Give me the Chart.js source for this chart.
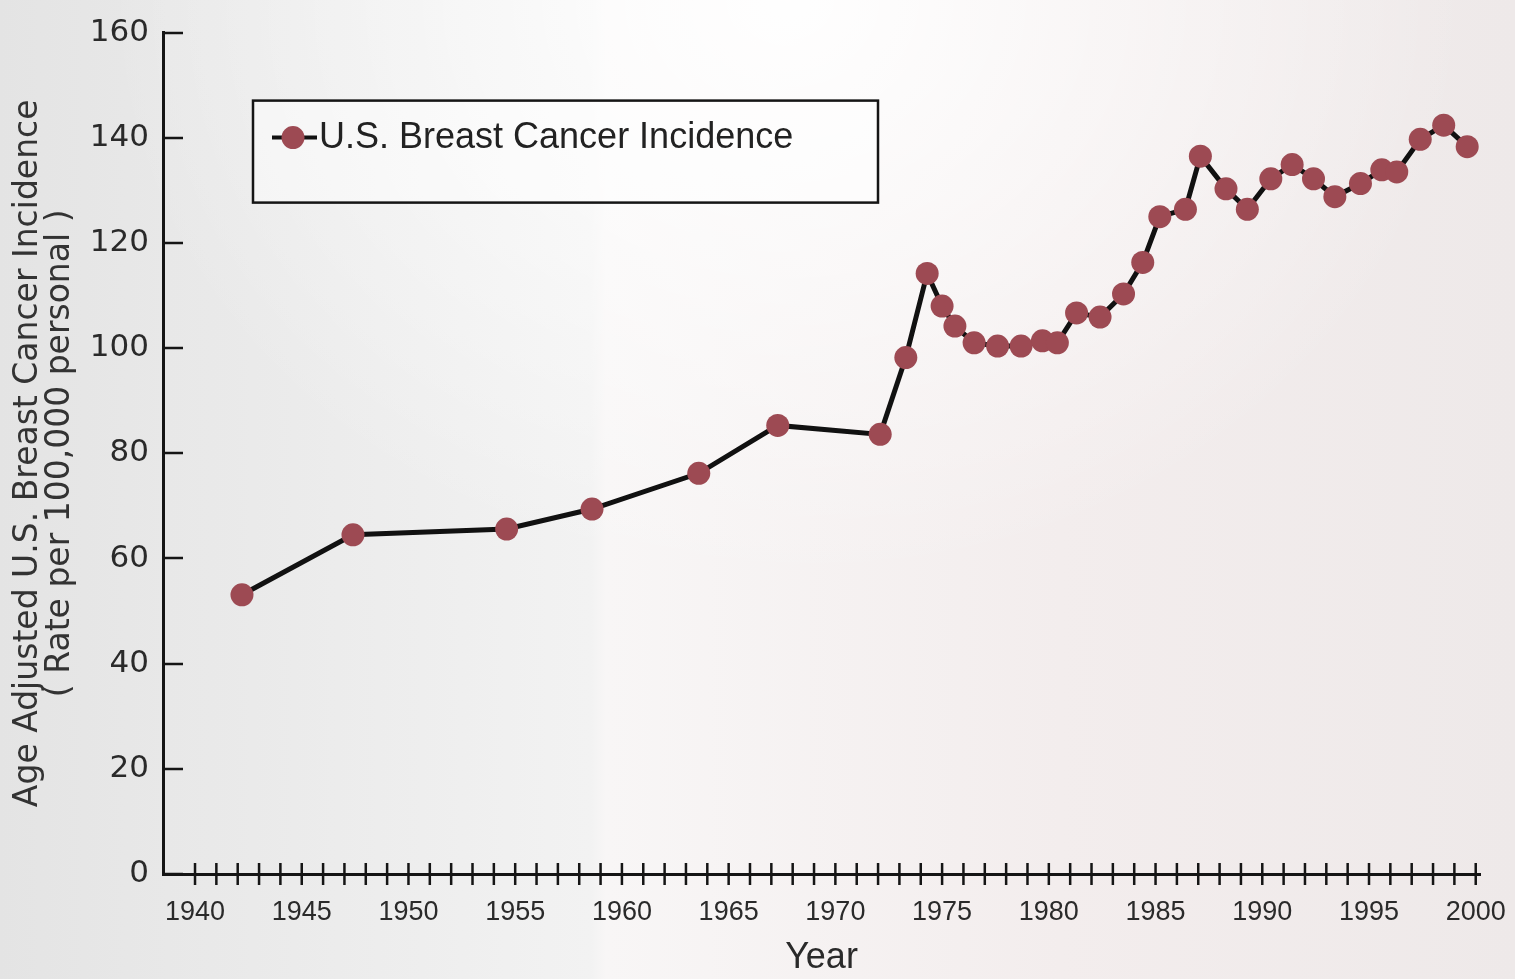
<!DOCTYPE html>
<html>
<head>
<meta charset="utf-8">
<script src="https://cdn.jsdelivr.net/npm/chart.js@4/dist/chart.umd.min.js"></script>
<style>
  html, body { margin: 0; padding: 0; }
  body {
    width: 1515px; height: 979px; overflow: hidden;
    background:
      radial-gradient(ellipse 45% 60% at 52% 0%, rgba(255,255,255,0.95), rgba(255,255,255,0) 100%),
      linear-gradient(to right, #e4e4e4 0%, #ededed 25%, #f2f2f2 39%, #f8f6f6 40%, #f3eded 70%, #eee9e9 100%);
  }
  #wrap { position: absolute; left: 0; top: 0; width: 1515px; height: 979px; }
</style>
</head>
<body>
<div id="wrap"><canvas id="c" width="1515" height="979"></canvas></div>
<script>
// ---- data ----
const years = [1942.2, 1947.4, 1954.6, 1958.6, 1963.6, 1967.3, 1972.1, 1973.3, 1974.3, 1975.0,
               1975.6, 1976.5, 1977.6, 1978.7, 1979.7, 1980.4, 1981.3, 1982.4, 1983.5, 1984.4,
               1985.2, 1986.4, 1987.1, 1988.3, 1989.3, 1990.4, 1991.4, 1992.4, 1993.4, 1994.6,
               1995.6, 1996.3, 1997.4, 1998.5, 1999.6];
const incidence = [53.1, 64.5, 65.6, 69.4, 76.2, 85.3, 83.6, 98.2, 114.2, 108.0,
                   104.2, 101.0, 100.4, 100.4, 101.4, 101.0, 106.7, 105.9, 110.3, 116.3,
                   125.0, 126.4, 136.5, 130.3, 126.4, 132.2, 134.9, 132.2, 128.8, 131.3,
                   133.9, 133.5, 139.7, 142.4, 138.3];
const seriesLabel = 'U.S. Breast Cancer Incidence';
const xLabelYears = [1940, 1945, 1950, 1955, 1960, 1965, 1970, 1975, 1980, 1985, 1990, 1995, 2000];
const yTickValues = [0, 20, 40, 60, 80, 100, 120, 140, 160];
const xTitle = 'Year';
const yTitle = ['Age Adjusted U.S. Breast Cancer Incidence', '( Rate per 100,000 personal )'];

const points = years.map((y, i) => ({ x: y, y: incidence[i] }));

const markerColor = '#9d4a53';
const axisColor = '#151515';

const decorPlugin = {
  id: 'decor',
  beforeDatasetsDraw(chart) {
    const ctx = chart.ctx, xs = chart.scales.x, ys = chart.scales.y, a = chart.chartArea;
    ctx.save();
    ctx.strokeStyle = axisColor;
    ctx.lineWidth = 2.5;
    ctx.beginPath();
    ys.ticks.forEach(t => {
      const py = Math.round(ys.getPixelForValue(t.value));
      ctx.moveTo(a.left, py); ctx.lineTo(a.left + 20, py);
    });
    xs.ticks.forEach(t => {
      const px = xs.getPixelForValue(t.value);
      ctx.moveTo(px, a.bottom - 11); ctx.lineTo(px, a.bottom + 11);
    });
    ctx.stroke();
    ctx.restore();
  },
  afterDraw(chart) {
    const ctx = chart.ctx, a = chart.chartArea;
    const ds = chart.data.datasets[0];
    const bx = a.left + 90, by = a.top + 68, bw = 625, bh = 102;
    ctx.save();
    ctx.fillStyle = 'rgba(255,255,255,0.45)';
    ctx.fillRect(bx, by, bw, bh);
    ctx.strokeStyle = axisColor;
    ctx.lineWidth = 2.5;
    ctx.strokeRect(bx, by, bw, bh);
    const cy = by + 37;
    ctx.beginPath();
    ctx.moveTo(bx + 19, cy); ctx.lineTo(bx + 64, cy);
    ctx.lineWidth = 4; ctx.strokeStyle = ds.borderColor; ctx.stroke();
    ctx.beginPath();
    ctx.arc(bx + 40, cy, ds.pointRadius, 0, Math.PI * 2);
    ctx.fillStyle = ds.pointBackgroundColor; ctx.fill();
    ctx.fillStyle = '#222';
    ctx.font = '36px "Liberation Sans", sans-serif';
    ctx.textBaseline = 'middle';
    ctx.textAlign = 'left';
    ctx.fillText(ds.label, bx + 66, cy);
    ctx.restore();
  }
};

new Chart(document.getElementById('c'), {
  type: 'line',
  data: {
    datasets: [{
      label: seriesLabel,
      data: points,
      borderColor: '#111111',
      borderWidth: 5,
      pointRadius: 11.5,
      pointBackgroundColor: markerColor,
      pointBorderWidth: 0,
      pointBorderColor: markerColor,
      tension: 0,
      fill: false
    }]
  },
  options: {
    responsive: false,
    animation: false,
    devicePixelRatio: 1,
    layout: { padding: { top: 28, right: 35, left: 0, bottom: 0 } },
    plugins: { legend: { display: false }, tooltip: { enabled: false } },
    scales: {
      x: {
        type: 'linear',
        min: 1938.5,
        max: 2000.2,
        afterFit(s) { s.height = 105; s.paddingRight = 0; s.paddingLeft = 0; },
        afterBuildTicks(s) {
          const t = [];
          for (let v = 1940; v <= 2000; v++) t.push({ value: v });
          s.ticks = t;
        },
        ticks: {
          autoSkip: false,
          maxRotation: 0, minRotation: 0,
          padding: 22,
          color: '#2a2a2a',
          font: { family: '"Liberation Sans", sans-serif', size: 27 },
          callback: v => xLabelYears.includes(v) ? String(v) : ''
        },
        grid: { display: true, drawOnChartArea: false, drawTicks: false, color: 'rgba(0,0,0,0)' },
        border: { display: true, color: axisColor, width: 3 },
        title: {
          display: true, text: xTitle, color: '#2a2a2a',
          padding: { top: 0, bottom: 0 },
          font: { family: '"Liberation Sans", sans-serif', size: 36, lineHeight: 1.15 }
        }
      },
      y: {
        min: 0, max: 160,
        afterFit(s) { s.width = 163; },
        afterBuildTicks(s) { s.ticks = yTickValues.map(v => ({ value: v })); },
        ticks: {
          padding: 14,
          color: '#2a2a2a',
          font: { family: '"DejaVu Sans", sans-serif', size: 31 }
        },
        grid: { display: true, drawOnChartArea: false, drawTicks: false, color: 'rgba(0,0,0,0)' },
        border: { display: true, color: axisColor, width: 3 },
        title: {
          display: true, text: yTitle, color: '#333',
          padding: { top: 12, bottom: 0 },
          font: { family: '"DejaVu Sans", sans-serif', size: 33, lineHeight: 0.97 }
        }
      }
    }
  },
  plugins: [decorPlugin]
});
</script>
</body>
</html>
